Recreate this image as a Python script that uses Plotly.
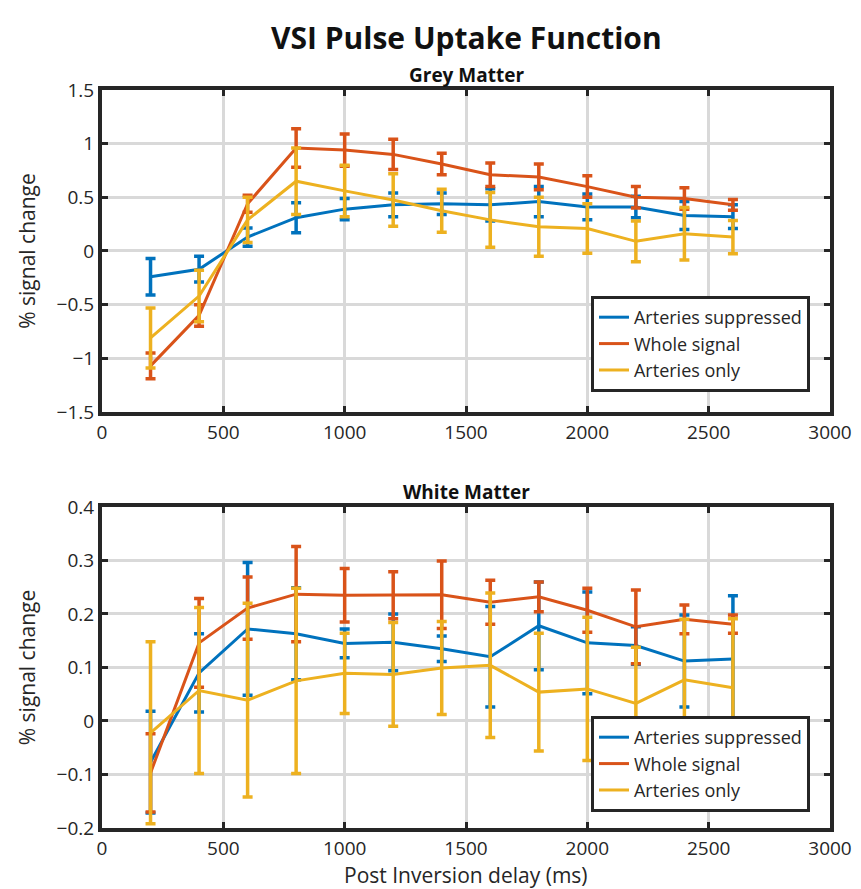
import plotly.graph_objects as go

# ---------------- data ----------------
delay_ms = [200, 400, 600, 800, 1000, 1200, 1400, 1600, 1800, 2000, 2200, 2400, 2600]
series_names = ["Arteries suppressed", "Whole signal", "Arteries only"]

gm_suppressed = [-0.24, -0.17, 0.13, 0.31, 0.39, 0.43, 0.44, 0.43, 0.46, 0.41, 0.41, 0.33, 0.32]
gm_suppressed_err = [0.17, 0.12, 0.085, 0.14, 0.10, 0.11, 0.10, 0.15, 0.14, 0.12, 0.10, 0.13, 0.11]
gm_whole = [-1.07, -0.60, 0.44, 0.96, 0.94, 0.90, 0.81, 0.71, 0.69, 0.60, 0.50, 0.49, 0.43]
gm_whole_err = [0.12, 0.10, 0.08, 0.18, 0.15, 0.14, 0.10, 0.11, 0.12, 0.10, 0.10, 0.10, 0.05]
gm_arteries = [-0.81, -0.42, 0.29, 0.65, 0.56, 0.475, 0.375, 0.29, 0.225, 0.21, 0.09, 0.16, 0.13]
gm_arteries_err = [0.28, 0.24, 0.21, 0.31, 0.24, 0.245, 0.20, 0.255, 0.275, 0.23, 0.19, 0.245, 0.155]

wm_suppressed = [-0.077, 0.09, 0.172, 0.163, 0.145, 0.147, 0.135, 0.12, 0.178, 0.146, 0.141, 0.112, 0.116]
wm_suppressed_err = [0.095, 0.073, 0.124, 0.086, 0.027, 0.053, 0.024, 0.094, 0.082, 0.095, 0.035, 0.086, 0.118]
wm_whole = [-0.097, 0.146, 0.211, 0.237, 0.235, 0.235, 0.236, 0.222, 0.232, 0.207, 0.176, 0.19, 0.181]
wm_whole_err = [0.073, 0.083, 0.058, 0.089, 0.05, 0.044, 0.063, 0.041, 0.028, 0.041, 0.069, 0.027, 0.017]
wm_arteries = [-0.022, 0.057, 0.039, 0.075, 0.089, 0.087, 0.099, 0.104, 0.054, 0.06, 0.033, 0.077, 0.062]
wm_arteries_err = [0.17, 0.155, 0.181, 0.173, 0.075, 0.097, 0.087, 0.135, 0.11, 0.134, 0.105, 0.113, 0.129]

x_ticks = [0, 500, 1000, 1500, 2000, 2500, 3000]
gm_y_ticks = [-1.5, -1, -0.5, 0, 0.5, 1, 1.5]
wm_y_ticks = [-0.2, -0.1, 0, 0.1, 0.2, 0.3, 0.4]

# ---------------- style ----------------
colors = ["#0072BD", "#D95319", "#EDB120"]
FONT = "Open Sans"
FRAME = "#262626"
GRID = "#d9d9d9"

fig = go.Figure()

panels = [
    ("x", "y", "legend", [(gm_suppressed, gm_suppressed_err), (gm_whole, gm_whole_err), (gm_arteries, gm_arteries_err)]),
    ("x2", "y2", "legend2", [(wm_suppressed, wm_suppressed_err), (wm_whole, wm_whole_err), (wm_arteries, wm_arteries_err)]),
]
for xa, ya, lg, data in panels:
    for (vals, errs), name, c in zip(data, series_names, colors):
        fig.add_trace(go.Scatter(
            x=delay_ms, y=vals, name=name, mode="lines",
            line=dict(color=c, width=3),
            error_y=dict(type="data", array=errs, visible=True, color=c, thickness=3.5, width=5),
            xaxis=xa, yaxis=ya, legend=lg,
        ))

axis_common = dict(
    showline=True, linecolor=FRAME, linewidth=4, mirror="allticks",
    ticks="inside", ticklen=6, tickwidth=3, tickcolor=FRAME,
    showgrid=True, gridcolor=GRID, gridwidth=2.5, zeroline=False,
    automargin=False,
    tickfont=dict(family=FONT, size=19, color="#262626"),
)
title_font = dict(family=FONT, size=21, color="#262626")

fig.update_layout(
    width=861, height=889,
    margin=dict(l=102, r=31, t=90, b=61),
    paper_bgcolor="white", plot_bgcolor="white",
    xaxis=dict(domain=[0, 1], range=[0, 3000], tickvals=x_ticks, anchor="y", **axis_common),
    yaxis=dict(domain=[0.5637, 1], range=[-1.5, 1.5], tickvals=gm_y_ticks, anchor="x",
               title=dict(text="% signal change", font=title_font, standoff=16),
               **axis_common),
    xaxis2=dict(domain=[0, 1], range=[0, 3000], tickvals=x_ticks, anchor="y2", **axis_common),
    yaxis2=dict(domain=[0, 0.435], range=[-0.2, 0.4], tickvals=wm_y_ticks, anchor="x2",
                title=dict(text="% signal change", font=title_font, standoff=16),
                **axis_common),
    legend=dict(x=0.9725, y=0.5908, xanchor="right", yanchor="bottom",
                bgcolor="white", bordercolor=FRAME, borderwidth=3,
                font=dict(family=FONT, size=18, color="#262626"), tracegroupgap=0),
    legend2=dict(x=0.9725, y=0.0217, xanchor="right", yanchor="bottom",
                 bgcolor="white", bordercolor=FRAME, borderwidth=3,
                 font=dict(family=FONT, size=18, color="#262626"), tracegroupgap=0),
    showlegend=True,
    annotations=[
        dict(text="<b>VSI Pulse Uptake Function</b>", x=0.5, y=1.0718, xref="paper", yref="paper",
             xanchor="center", yanchor="middle", showarrow=False,
             font=dict(family=FONT, size=30, color="#111111")),
        dict(text="<b>Grey Matter</b>", x=0.5, y=1.0203, xref="paper", yref="paper",
             xanchor="center", yanchor="middle", showarrow=False,
             font=dict(family=FONT, size=19, color="#111111")),
        dict(text="<b>White Matter</b>", x=0.5, y=0.4553, xref="paper", yref="paper",
             xanchor="center", yanchor="middle", showarrow=False,
             font=dict(family=FONT, size=19, color="#111111")),
        dict(text="Post Inversion delay (ms)", x=0.5, y=-0.0637, xref="paper", yref="paper",
             xanchor="center", yanchor="middle", showarrow=False, font=title_font),
    ],
)

fig.write_html("out.html")
